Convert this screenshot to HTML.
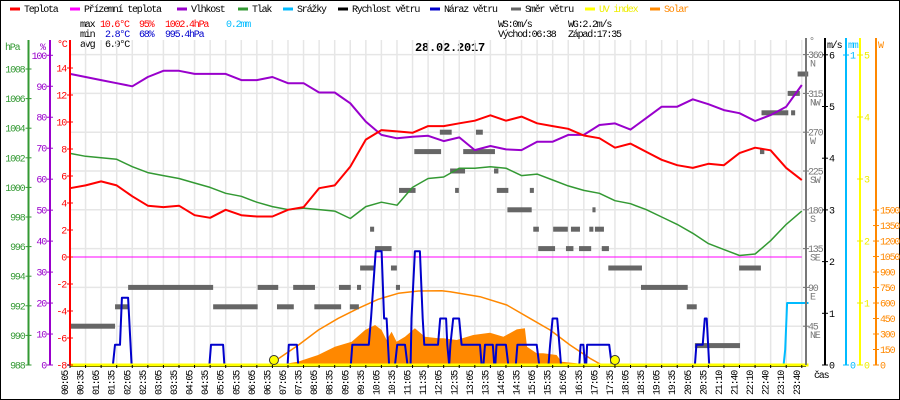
<!DOCTYPE html>
<html><head><meta charset="utf-8"><style>
html,body{margin:0;padding:0;background:#fff}
svg{display:block}
text{font-family:"Liberation Mono",monospace;font-size:10px;letter-spacing:-1.2px}
</style></head><body>
<svg id="chart" width="900" height="400" viewBox="0 0 900 400" xmlns="http://www.w3.org/2000/svg">
<rect x="0.5" y="0.5" width="899" height="399" fill="#fff" stroke="#000"/>
<g id="legend"></g>
<g>
<text x="80" y="27">max</text><text x="100" y="27" fill="#f00">10.6°C</text><text x="139" y="27" fill="#f00">95%</text><text x="165" y="27" fill="#f00">1002.4hPa</text><text x="226" y="27" fill="#0bf">0.2mm</text>
<text x="80" y="37">min</text><text x="105" y="37" fill="#00c">2.8°C</text><text x="139" y="37" fill="#00c">68%</text><text x="165" y="37" fill="#00c">995.4hPa</text>
<text x="80" y="47">avg</text><text x="105" y="47">6.9°C</text>
<text x="498" y="27">WS:0m/s</text><text x="568" y="27">WG:2.2m/s</text>
<text x="498" y="37">Východ:06:38</text><text x="568" y="37">Západ:17:35</text>
</g>
<text x="450" y="51" text-anchor="middle" style="font-size:12px;font-weight:bold;letter-spacing:-0.2px">28.02.2017</text>
<g id="grid"></g>
<g id="series"></g>
<g id="axes"></g>
</svg>
<script>
// ---- data ----
const slotHours = Array.from({length:48},(_,i)=>(5+30*i)/60);
const tempC = [5.1,5.3,5.6,5.3,4.5,3.8,3.7,3.8,3.1,2.9,3.5,3.1,3.0,3.0,3.5,3.7,5.1,5.3,6.7,8.7,9.4,9.3,9.2,9.7,9.7,9.9,10.1,10.5,10.1,10.4,9.9,9.7,9.5,9.0,8.8,8.1,8.4,7.8,7.2,6.8,6.6,6.9,6.8,7.7,8.1,7.9,6.6,5.7];
const apparentC = [0,0,0,0,0,0,0,0,0,0,0,0,0,0,0,0,0,0,0,0,0,0,0,0,0,0,0,0,0,0,0,0,0,0,0,0,0,0,0,0,0,0,0,0,0,0,0,0];
const humidity = [94,93,92,91,90,93,95,95,94,94,94,92,92,93,91,91,88,88,84.5,78.6,74.3,73.2,73.7,74,72.3,73.5,69.4,70.7,69.6,69.4,72.1,72.1,74.3,74.3,77.5,78,76,79.7,83.4,83.4,85.8,84.2,82.3,81.3,78.8,80.7,83.4,90.4];
const pressure = [1002.3,1002.1,1002.0,1001.9,1001.4,1001.0,1000.8,1000.6,1000.3,1000.0,999.6,999.4,999.0,998.7,998.5,998.6,998.5,998.4,997.9,998.7,999.0,998.8,1000.0,1000.6,1000.7,1001.3,1001.3,1001.4,1001.3,1000.8,1000.9,1000.5,1000.1,999.8,999.6,999.1,998.9,998.5,998.0,997.5,996.9,996.2,995.8,995.4,995.5,996.4,997.5,998.4];
const gustT = [0,1.46,1.53,1.69,1.75,1.95,2.06,4.56,4.61,5.0,5.04,7.07,7.11,7.37,7.41,9.1,9.15,9.68,9.75,9.9,10.09,10.17,10.25,10.33,10.52,10.59,10.84,10.92,11.02,11.05,11.16,11.32,11.41,11.46,11.9,11.97,12.16,12.2,12.26,12.3,12.39,12.58,12.66,13.25,13.3,13.36,13.41,13.66,13.71,13.74,13.78,14.08,14.16,14.4,14.45,15.07,15.15,15.45,15.5,15.58,15.73,15.8,15.85,16.44,16.48,16.57,16.62,16.66,16.69,17.4,17.48,20.15,20.2,20.4,20.47,20.53,20.61,23.8];
const gustV = [0,0,.39,.39,1.3,1.3,0,0,.39,.39,0,0,.39,.39,0,0,.39,.39,.9,2.2,2.2,.9,.9,0,0,.39,.39,0,0,.9,2.2,2.2,.9,.39,.39,.9,.9,.39,0,.39,.9,.9,.39,.39,0,0,.39,.39,0,0,.39,.39,0,0,.39,.39,0,0,.39,.9,.9,.39,0,0,.39,.39,0,0,.39,.39,0,0,.39,.39,.9,.9,0,0];
const windSpeedT = [0,23.8];
const windSpeedV = [0,0];
const dirStart = [0.115,1.53,1.95,4.68,6.11,6.73,7.25,7.93,8.72,9.07,9.3,9.4,9.72,9.88,10.39,10.55,10.65,11.14,11.96,13.12,12.71,12.29,13.7,12.45,13.79,14.85,14.13,16.86,14.96,15.6,16.17,16.76,16.94,15.12,16.01,16.43,17.16,17.37,21.57,18.42,19.89,20.15,22.24,22.29,23.24,23.13,23.45];
const dirEnd   = [1.53,1.98,4.68,6.11,6.77,7.27,7.95,8.79,9.1,9.36,9.43,9.86,9.85,10.41,10.58,10.68,11.18,12.0,12.34,13.34,13.73,12.77,13.84,12.57,14.16,14.98,14.91,16.96,15.14,16.07,16.46,16.89,17.23,15.66,16.25,16.82,17.39,18.45,22.27,19.92,20.21,21.6,22.38,23.15,23.37,23.52,23.79];
const dirDeg   = [45,67.5,90,67.5,90,67.5,90,67.5,90,67.5,90,112.5,157.5,135,112.5,90,202.5,247.5,270,270,247.5,225,225,202.5,202.5,202.5,180,180,157.5,157.5,157.5,157.5,157.5,135,135,135,135,112.5,112.5,90,67.5,22.5,247.5,292.5,292.5,315,337.5];
const solarT = [6.77,7.4,8.05,8.59,9.13,9.56,9.88,10.09,10.25,10.41,10.57,10.84,11.16,11.48,11.91,12.07,12.5,13.03,13.57,14.0,14.43,14.69,14.76,15.07,15.28,15.71,15.87,16.35,16.65];
const solarW = [0,32,97,177,226,339,387,339,242,322,226,274,355,274,258,258,242,290,313,274,345,355,177,113,113,97,32,16,0];
const solarMaxT = [6.56,7.42,8.06,8.7,9.34,9.98,10.63,11.27,12.02,12.29,13.25,14.11,14.85,15.5,16.14,16.78,17.16];
const solarMaxW = [16,194,339,452,549,636,694,716,719,710,661,581,452,339,194,65,0];
const rainT = [0,23.0,23.05,23.11,23.8];
const rainV = [0,0,0.05,0.2,0.2];
const uvT = [0.08,23.8];
const uvV = [0,0];
const sunEventsT = [6.633,17.583];
const xTickLabels = ["00:05","00:35","01:05","01:35","02:05","02:35","03:05","03:35","04:05","04:35","05:05","05:35","06:05","06:35","07:05","07:35","08:05","08:35","09:05","09:35","10:05","10:35","11:05","11:35","12:05","12:35","13:05","13:35","14:05","14:35","15:05","15:35","16:05","16:35","17:05","17:35","18:05","18:35","19:05","19:35","20:05","20:35","21:10","21:40","22:10","22:40","23:10","23:40"];
const tempTicks = [-8,-6,-4,-2,0,2,4,6,8,10,12,14];
const humTicks = [0,10,20,30,40,50,60,70,80,90,100];
const presTicks = [988,990,992,994,996,998,1000,1002,1004,1006,1008];
const dirTicks = [45,90,135,180,225,270,315,360];
const dirNames = ["NE","E","SE","S","SW","W","NW","N"];
const msTicks = [0,1,2,3,4,5,6];
const mmTicks = [0,1];
const uvTicks = [0,1,2,3,4,5];
const wTicks = [0,150,300,450,600,750,900,1050,1200,1350,1500];

// ---- scales ----
const X0=70, X1=806, Y0=365;
const xH = h => X0 + (h-5/60)*31.14;
const yT = t => 257 - t*13.5;
const yHum = v => Y0 - v*3.097;
const yP = p => Y0 - (p-988)*14.8;
const yD = d => Y0 - d/45*38.8;
const yMs = v => Y0 - v*51.7;
const yMm = v => Y0 - v*310;
const yUV = v => Y0 - v*62;
const yW = w => Y0 - w*0.1033;

const NS='http://www.w3.org/2000/svg';
function mk(tag, attrs, parent){const e=document.createElementNS(NS,tag);for(const k in attrs)e.setAttribute(k,attrs[k]);parent.appendChild(e);return e;}
const grid=document.getElementById('grid'), series=document.getElementById('series'), axes=document.getElementById('axes'), legend=document.getElementById('legend');

// legend
const legNames=["Teplota","Přízemní teplota","Vlhkost","Tlak","Srážky","Rychlost větru","Náraz větru","Směr větru","UV index","Solar"];
const legColors=["#f00","#f0f","#90c","#393","#0bf","#000","#00c","#666","#ff0","#f80"];
const legX=[10,70,177,238,283,338,430,511,585,650];
legNames.forEach((n,i)=>{
  const g=mk('g',{},legend);
  
  
  mk('rect',{x:legX[i],y:7.5,width:10,height:3,fill:legColors[i]},g);
  const t=mk('text',{x:legX[i]+14,y:12,fill:(i==8?'#ee0':(i==9?'#f80':'#000'))},g); t.textContent=n;
});

// grid
xTickLabels.forEach((l,i)=>{
  const x=xH(slotHours[i]);
  const ln=mk('line',{x1:x,x2:x,y1:40,y2:Y0,stroke:'#e6e6e6','stroke-width':1.5},grid);
  
  
  const tk=mk('line',{x1:x,x2:x,y1:Y0,y2:Y0+3,stroke:'#000'},axes);
  
  
  const t=mk('text',{transform:`translate(${x-2},395) rotate(-90)`,fill:'#000'},axes);
  
  
  t.textContent=l;
});
dirTicks.forEach(d=>{
  const y=yD(d);
  const ln=mk('line',{x1:X0,x2:X1,y1:y,y2:y,stroke:'#e6e6e6','stroke-width':1.5},grid);
  
  
});

// series helpers
function poly(tArr,vArr,yf,color,w,name){
  const pts=tArr.map((t,i)=>xH(t).toFixed(1)+','+yf(vArr[i]).toFixed(1)).join(' ');
  const p=mk('polyline',{points:pts,fill:'none',stroke:color,'stroke-width':w,'stroke-linejoin':'round'},series);
  
  
  return p;
}
// solar area
{
  const pts=solarT.map((t,i)=>xH(t).toFixed(1)+','+yW(solarW[i]).toFixed(1));
  pts.unshift(xH(solarT[0]).toFixed(1)+','+Y0);pts.push(xH(solarT[solarT.length-1]).toFixed(1)+','+Y0);
  const p=mk('polygon',{points:pts.join(' '),fill:'#f80'},series);
  
  
}
poly(solarMaxT,solarMaxW,yW,'#f80',1.5,'solar-theoretical-line');
// wind direction
dirDeg.forEach((d,i)=>{
  const x1=xH(dirStart[i]),x2=xH(dirEnd[i]);
  const r=mk('rect',{x:x1,y:yD(d)-2.5,width:Math.max(3,x2-x1),height:5,fill:'#666'},series);
  
  
});
poly(slotHours,apparentC,yT,'#f0f',1,'apparent-temperature-line');
poly(slotHours,pressure,yP,'#393',1.5,'pressure-line');
poly(slotHours,humidity,yHum,'#90c',2,'humidity-line');
poly(slotHours,tempC,yT,'#f00',2,'temperature-line');
poly(gustT,gustV,yMs,'#00c',2,'wind-gust-line');
poly(windSpeedT,windSpeedV,yMs,'#000',1,'wind-speed-line');
poly(rainT,rainV,yMm,'#0bf',2,'precipitation-line');
{const l=mk('line',{x1:X0,x2:X1,y1:Y0+1.5,y2:Y0+1.5,stroke:'#000','stroke-width':1},series);
 
 }
poly(uvT,uvV,yUV,'#ff0',3,'uv-index-line');
sunEventsT.forEach((t,i)=>{
  const c=mk('circle',{cx:xH(t),cy:360,r:4.5,fill:'#ff0',stroke:'#333','stroke-width':1},series);
  
  
});

// axes
function vaxis(x,color,name,y1){
  const l=mk('line',{x1:x,x2:x,y1:y1,y2:Y0,stroke:color,'stroke-width':2},axes);
  
  
}
function ticks(arr,yf,x,color,side,name,fmt){
  arr.forEach(v=>{
    const y=yf(v);
    mk('line',{x1:x-3,x2:x+3,y1:y,y2:y,stroke:color},axes);
    const t=mk('text',{x:side<0?x-4:x+4,y:y+3.5,fill:color,'text-anchor':side<0?'end':'start'},axes);
    
    
    t.textContent=fmt?fmt(v):v;
  });
}
vaxis(28.5,'#393','pressure-axis',40);
vaxis(50,'#90c','humidity-axis',40);
vaxis(70,'#f00','temperature-axis',40);
vaxis(806,'#777','direction-axis',38);
vaxis(825,'#000','wind-speed-axis',38);
vaxis(846,'#0bf','precip-axis',38);
vaxis(860,'#ff0','uv-axis',38);
vaxis(876,'#f80','solar-axis',38);
ticks(presTicks,yP,28.5,'#393',-1,'pressure-tick-label');
ticks(humTicks,yHum,50,'#90c',-1,'humidity-tick-label');
ticks(tempTicks,yT,70,'#f00',-1,'temperature-tick-label');
ticks(msTicks,yMs,825,'#000',1,'wind-speed-tick-label');
ticks(mmTicks,yMm,846,'#0bf',1,'precip-tick-label');
ticks(uvTicks,yUV,860,'#ee0',1,'uv-tick-label');
ticks(wTicks,yW,876,'#f80',1,'solar-tick-label');
dirTicks.forEach((d,i)=>{
  const y=yD(d);
  mk('line',{x1:803,x2:809,y1:y,y2:y,stroke:'#777'},axes);
  const t=mk('text',{x:808,y:y+3.5,fill:'#777'},axes);
  
  
  t.textContent=d;
  const n=mk('text',{x:810,y:y+12,fill:'#777'},axes);
  
  
  n.textContent=dirNames[i];
});
const units=[[5,50,'#393','hPa'],[40,50,'#90c','%'],[57,47,'#f00','°C'],[809,44,'#777','°'],[827,48,'#000','m/s'],[848,48,'#0bf','mm'],[878,48,'#f80','W'],[814,378,'#000','čas']];
units.forEach(u=>{
  const t=mk('text',{x:u[0],y:u[1],fill:u[2]},axes);
  
  
  t.textContent=u[3];
});
</script>
</body></html>
